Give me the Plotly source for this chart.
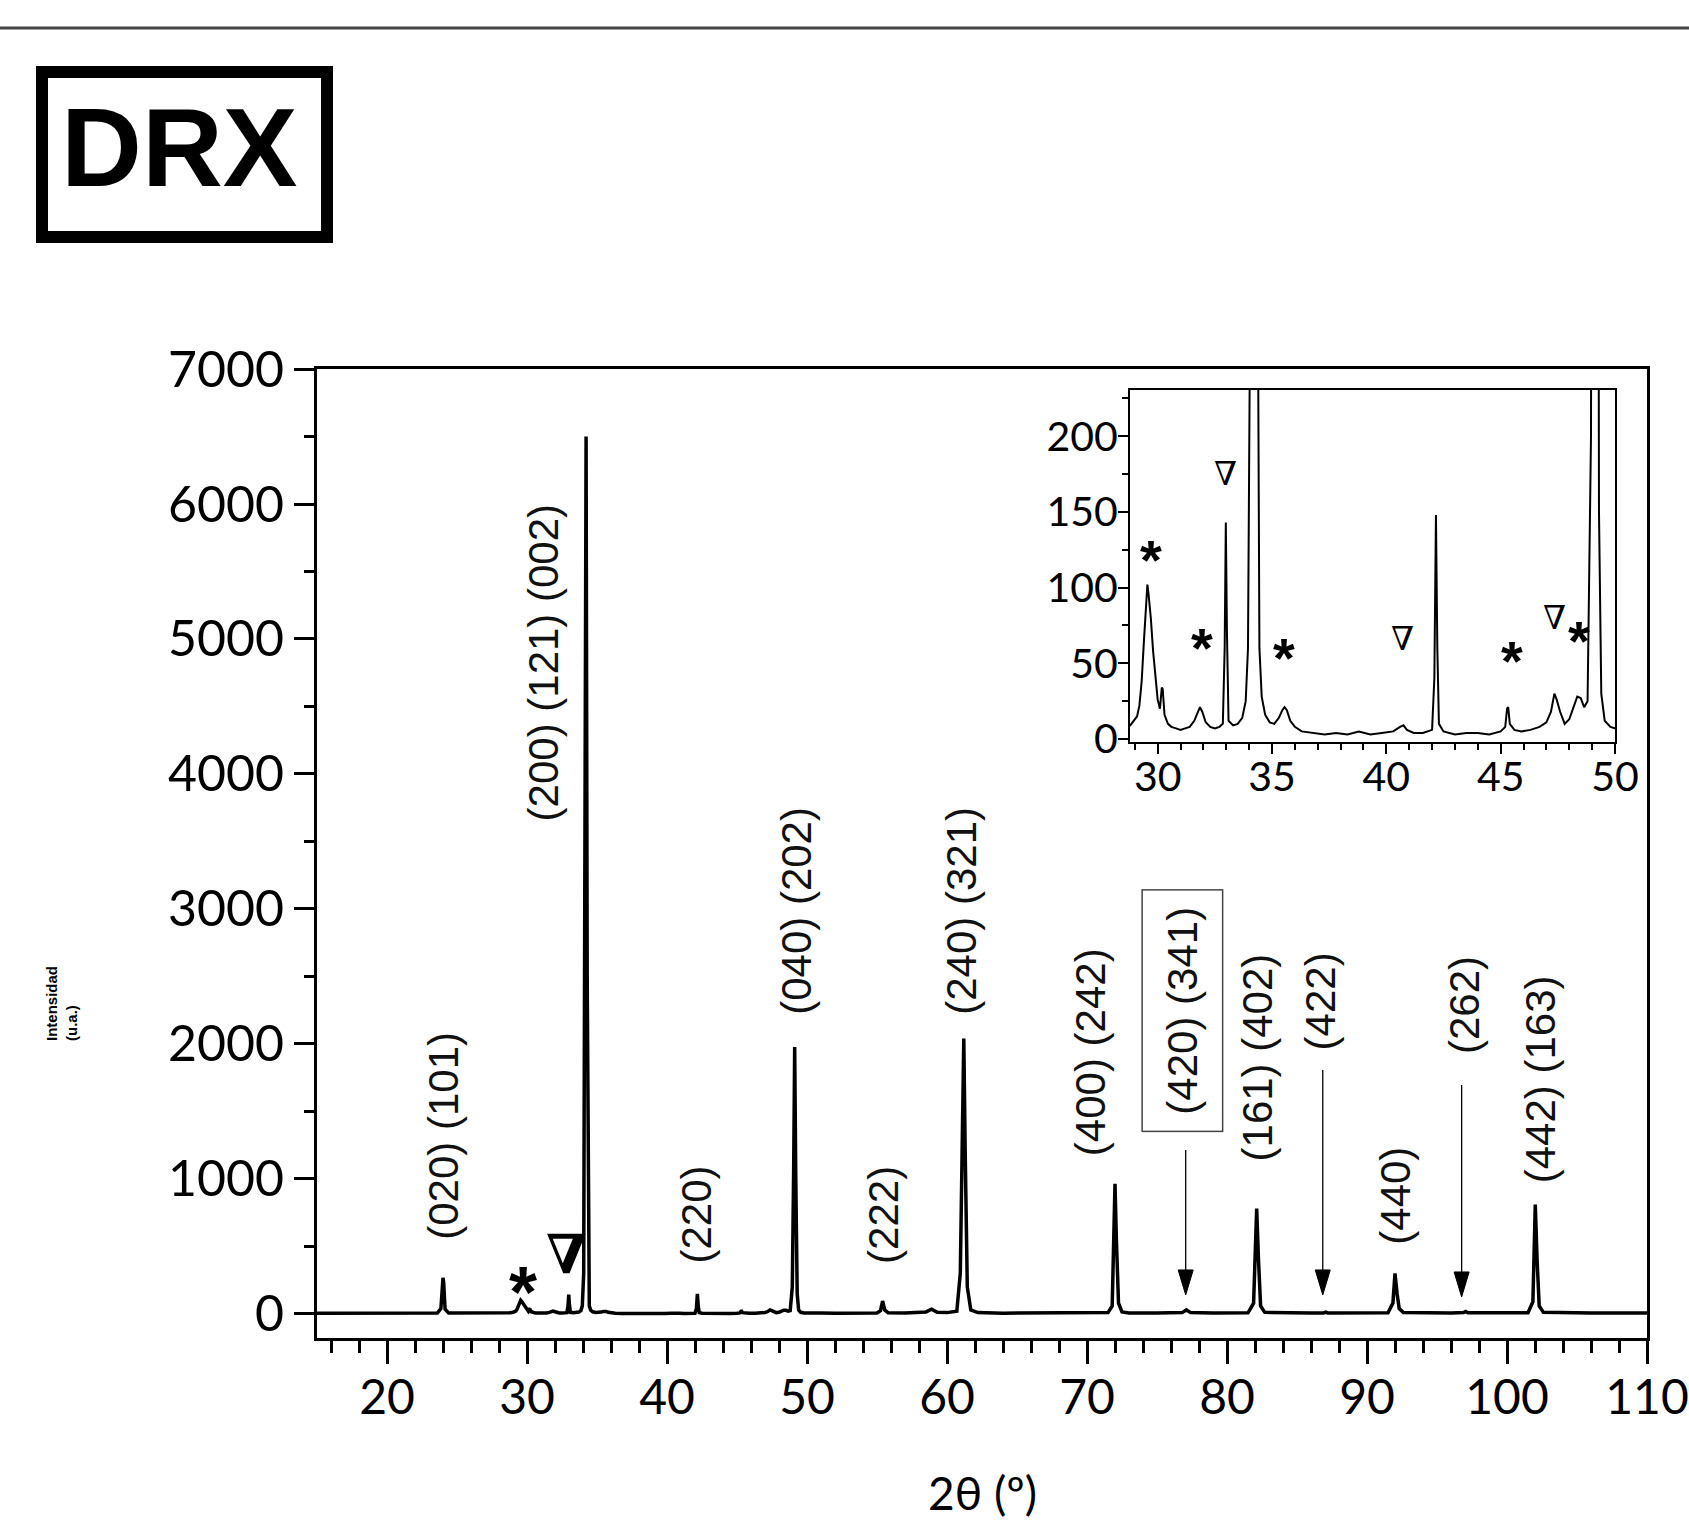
import plotly.graph_objects as go

# ---------------- data ----------------
two_theta = [
    15.0, 17.0, 19.0, 20.0, 20.3, 22.0, 23.6, 23.85, 23.95, 24.0, 24.05, 24.15, 24.4,
    26.0, 27.5, 28.5, 28.8,
    29.0, 29.1, 29.2, 29.3, 29.4, 29.5, 29.55, 29.6, 29.7, 29.8, 29.9, 30.0, 30.1,
    30.18, 30.22, 30.3, 30.45, 30.6, 30.8, 31.0, 31.2, 31.4, 31.6, 31.75, 31.85,
    31.95, 32.1, 32.3, 32.5, 32.7, 32.85, 32.93, 32.98, 33.03, 33.1, 33.3, 33.5,
    33.7, 33.85, 33.95, 34.05, 34.15, 34.22, 34.3, 34.38, 34.45, 34.55, 34.7, 34.9,
    35.1, 35.3, 35.45, 35.55, 35.65, 35.8, 36.0, 36.3, 36.8, 37.3, 37.8, 38.3,
    38.8, 39.3, 39.8, 40.3, 40.6, 40.75, 40.9, 41.2, 41.6, 42.0, 42.1, 42.17,
    42.23, 42.3, 42.5, 43.0, 43.5, 44.0, 44.5, 45.0, 45.2, 45.28, 45.33, 45.4,
    45.6, 45.9, 46.3, 46.7, 47.0, 47.2, 47.35, 47.45, 47.6, 47.8, 48.0, 48.2,
    48.35, 48.5, 48.65, 48.8, 48.95, 49.05, 49.12, 49.2, 49.3, 49.4, 49.55, 49.8,
    50.0, 50.3, 51.0, 52.0, 53.0, 54.0, 55.0, 55.25, 55.4, 55.55, 55.8, 57.0,
    58.5, 58.9, 59.3, 60.0, 60.7, 60.95, 61.1, 61.2, 61.3, 61.45, 61.7, 62.2,
    64.0, 66.0, 68.0, 70.0, 71.5, 71.8, 71.92, 72.0, 72.1, 72.25, 72.5, 73.0,
    75.0, 76.8, 77.1, 77.4, 79.0, 81.5, 81.9, 82.05, 82.12, 82.25, 82.4, 82.7,
    84.0, 86.0, 86.9, 87.05, 87.2, 89.0, 91.5, 91.85, 91.95, 92.0, 92.15, 92.3,
    92.6, 94.0, 96.0, 96.9, 97.05, 97.2, 99.0, 101.5, 101.85, 101.95, 102.02,
    102.15, 102.3, 102.6, 104.0, 106.0, 108.0, 110.0,
]
intensity = [
    6, 5, 6, 9, 5, 6, 7, 40, 240, 268, 230, 35, 8,
    6, 7, 7, 9,
    13, 15, 22, 38, 65, 92, 102, 96, 80, 58, 42, 26, 20,
    34, 33, 16, 10, 8, 7, 6, 7, 8, 12, 18, 21,
    18, 11, 8, 7, 8, 10, 60, 143, 70, 12, 9, 10,
    14, 25, 60, 300, 3000, 6500, 2500, 300, 60, 28, 16, 11,
    10, 14, 19, 21, 19, 12, 8, 5, 4, 3, 4, 3,
    5, 3, 4, 5, 8, 9, 6, 4, 4, 6, 40, 148,
    60, 10, 5, 3, 4, 4, 3, 5, 8, 20, 21, 10,
    6, 5, 6, 8, 11, 18, 30, 26, 18, 10, 13, 22,
    28, 27, 21, 25, 200, 1100, 1978, 1000, 150, 30, 12, 8,
    7, 6, 8, 6, 7, 6, 8, 25, 96, 30, 9, 7,
    15, 35, 12, 10, 20, 300, 1500, 2040, 1200, 200, 30, 10,
    6, 7, 6, 7, 10, 60, 600, 965, 550, 80, 15, 8,
    7, 10, 30, 10, 7, 9, 80, 600, 780, 400, 60, 12,
    8, 7, 8, 14, 8, 7, 9, 80, 280, 300, 150, 40,
    10, 7, 7, 10, 18, 9, 7, 9, 90, 600, 810,
    400, 60, 12, 8, 7, 8, 7,
]

hkl_labels = ["(020) (101)", "(200) (121) (002)", "(220)", "(040) (202)",
              "(222)", "(240) (321)", "(400) (242)", "(420) (341)",
              "(161) (402)", "(422)", "(440)", "(262)", "(442) (163)"]
hkl_x = [23.98, 31.21, 42.14, 49.29, 55.45, 61.07, 70.30, 76.84,
         82.15, 86.69, 92.07, 97.00, 102.39]
hkl_y = [1318, 4826, 736, 2987, 736, 2987, 1941, 2249,
         1901, 2313, 876, 2289, 1742]
boxed_label = "(420) (341)"

arrow_x = [77.05, 86.84, 96.76]
arrow_tail = [1215, 1807, 1696]
arrow_head = [141, 141, 126]

main_star_x, main_star_y = [29.71], [267]
main_nabla_x, main_nabla_y = [32.84], [444]
inset_star_x = [29.69, 31.93, 35.53, 45.51, 48.42]
inset_star_y = [127.9, 70.0, 63.4, 61.2, 74.3]
inset_nabla_x = [32.98, 40.70, 47.35]
inset_nabla_y = [175.3, 66.7, 80.2]

# ---------------- layout geometry ----------------
W, H = 1689, 1523
def px(X): return X / W
def py(Y): return 1 - Y / H

MAIN_L, MAIN_R, MAIN_T, MAIN_B = 317, 1647, 369, 1338
INS_L, INS_R, INS_T, INS_B = 1130, 1615, 390, 742
X_RANGE = [15, 110]
Y_RANGE = [-178, 7000]
X2_RANGE = [28.79, 50]
Y2_RANGE = [-2, 230.6]

ux = (X_RANGE[1] - X_RANGE[0]) / (MAIN_R - MAIN_L)   # data units per px
uy = (Y_RANGE[1] - Y_RANGE[0]) / (MAIN_B - MAIN_T)

fig = go.Figure()
fig.add_trace(go.Scatter(x=two_theta, y=intensity, mode="lines",
                         line=dict(color="black", width=3.5),
                         xaxis="x", yaxis="y", showlegend=False,
                         hoverinfo="skip"))
fig.add_trace(go.Scatter(x=two_theta, y=intensity, mode="lines",
                         line=dict(color="black", width=2),
                         xaxis="x2", yaxis="y2", showlegend=False,
                         hoverinfo="skip"))

tickfont_main_x = dict(family="Lato", size=48, color="black")
tickfont_main_y = dict(family="Lato", size=50, color="black")
tickfont_ins = dict(family="Lato", size=41, color="black")

common = dict(showline=True, linecolor="black", mirror=True, showgrid=False,
              zeroline=False, automargin=False, tickcolor="black", ticks="outside")

fig.update_layout(
    width=W, height=H, autosize=False,
    margin=dict(l=0, r=0, t=0, b=0, pad=0, autoexpand=False),
    paper_bgcolor="white", plot_bgcolor="white",
    showlegend=False,
    xaxis=dict(domain=[px(MAIN_L), px(MAIN_R)], range=X_RANGE, anchor="y",
               tick0=0, dtick=10, ticklen=23, tickwidth=3, linewidth=3,
               tickfont=tickfont_main_x, ticklabelstandoff=-8,
               minor=dict(tick0=0, dtick=2, ticks="outside", ticklen=12,
                          tickwidth=3, tickcolor="black", showgrid=False),
               **common),
    yaxis=dict(domain=[py(MAIN_B), py(MAIN_T)], range=Y_RANGE, anchor="x",
               tick0=0, dtick=1000, ticklen=20, tickwidth=3, linewidth=3,
               tickfont=tickfont_main_y, ticklabelstandoff=0,
               minor=dict(tick0=0, dtick=500, ticks="outside", ticklen=10,
                          tickwidth=3, tickcolor="black", showgrid=False),
               **common),
    xaxis2=dict(domain=[px(INS_L), px(INS_R)], range=X2_RANGE, anchor="y2",
                tick0=0, dtick=5, ticklen=10, tickwidth=2, linewidth=2,
                tickfont=tickfont_ins, ticklabelstandoff=-12,
                minor=dict(tick0=0, dtick=1, ticks="outside", ticklen=6,
                           tickwidth=2, tickcolor="black", showgrid=False),
                **common),
    yaxis2=dict(domain=[py(INS_B), py(INS_T)], range=Y2_RANGE, anchor="x2",
                tick0=0, dtick=50, ticklen=10, tickwidth=2, linewidth=2,
                tickfont=tickfont_ins, ticklabelstandoff=-8,
                minor=dict(tick0=0, dtick=25, ticks="outside", ticklen=6,
                           tickwidth=2, tickcolor="black", showgrid=False),
                **common),
)

annotations = []
shapes = []

# hkl labels
for lab, x, y in zip(hkl_labels, hkl_x, hkl_y):
    a = dict(x=x, y=y, xref="x", yref="y", text=lab, showarrow=False,
             textangle=-90, xanchor="center", yanchor="middle",
             font=dict(family="Liberation Sans", size=42, color="#111"))
    if lab == boxed_label:
        a.update(bordercolor="#444", borderwidth=1.5, borderpad=16)
    annotations.append(a)

# arrows (line + narrow filled head)
head_len = 25 * uy
head_hw = 7.5 * ux
for x, yt, yh in zip(arrow_x, arrow_tail, arrow_head):
    shapes.append(dict(type="line", xref="x", yref="y", x0=x, x1=x,
                       y0=yt, y1=yh + head_len * 0.5,
                       line=dict(color="black", width=1.3)))
    shapes.append(dict(type="path", xref="x", yref="y",
                       path=f"M {x - head_hw},{yh + head_len} L {x + head_hw},{yh + head_len} L {x},{yh} Z",
                       fillcolor="black", line=dict(color="black", width=1)))

# phase markers, main plot
for x, y in zip(main_star_x, main_star_y):
    annotations.append(dict(x=x, y=y, xref="x", yref="y", text="<b>*</b>", showarrow=False,
                            yshift=-14,
                            font=dict(family="Liberation Sans", size=72, color="black")))
for x, y in zip(main_nabla_x, main_nabla_y):
    annotations.append(dict(x=x, y=y, xref="x", yref="y", text="<b>∇</b>", showarrow=False,
                            font=dict(family="DejaVu Serif", size=54, color="black")))
# phase markers, inset
for x, y in zip(inset_star_x, inset_star_y):
    annotations.append(dict(x=x, y=y, xref="x2", yref="y2", text="<b>*</b>", showarrow=False,
                            yshift=-14,
                            font=dict(family="Liberation Sans", size=56, color="black")))
for x, y in zip(inset_nabla_x, inset_nabla_y):
    annotations.append(dict(x=x, y=y, xref="x2", yref="y2", text="∇", showarrow=False,
                            font=dict(family="DejaVu Serif", size=33, color="black")))

# axis titles
annotations.append(dict(x=px((MAIN_L + MAIN_R) / 2), y=py(1492), xref="paper", yref="paper",
                        text="2θ (º)", showarrow=False, xanchor="center", yanchor="middle",
                        font=dict(family="Lato", size=46, color="black")))
annotations.append(dict(x=px(61.5), y=py(1003.5), xref="paper", yref="paper",
                        text="<b>Intensidad<br>(u.a.)</b>", showarrow=False, align="left",
                        textangle=-90, xanchor="center", yanchor="middle",
                        font=dict(family="Liberation Sans", size=15, color="black")))

# DRX header
annotations.append(dict(x=px(179), y=py(148), xref="paper", yref="paper",
                        text="<b>DRX</b>", showarrow=False, xanchor="center", yanchor="middle",
                        font=dict(family="Liberation Sans", size=112, color="black")))
shapes.append(dict(type="rect", xref="paper", yref="paper",
                   x0=px(42), x1=px(327), y0=py(237), y1=py(72),
                   line=dict(color="black", width=12), fillcolor="rgba(0,0,0,0)"))
shapes.append(dict(type="line", xref="paper", yref="paper",
                   x0=0, x1=1, y0=py(28), y1=py(28),
                   line=dict(color="#444", width=3)))

fig.update_layout(annotations=annotations, shapes=shapes)
fig.write_html("out.html",
               config={"displayModeBar": False, "responsive": False},
               post_script="document.body.style.margin='0';document.body.style.padding='0';"
                           "document.documentElement.style.overflow='hidden';")
